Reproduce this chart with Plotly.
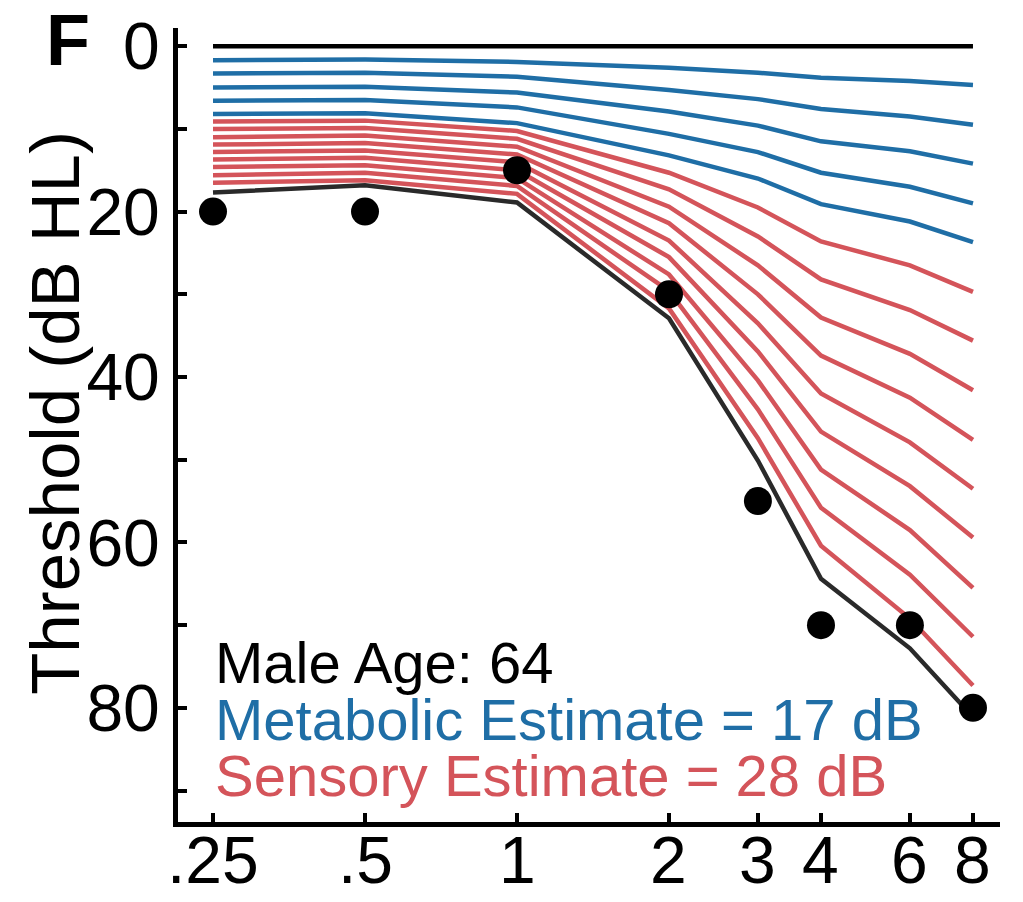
import math
import plotly.graph_objects as go

# Audiometric frequencies (kHz) and their axis labels
freqs = [0.25, 0.5, 1, 2, 3, 4, 6, 8]
freq_labels = [".25", ".5", "1", "2", "3", "4", "6", "8"]

# Normal-hearing reference (0 dB HL)
normal = [0, 0, 0, 0, 0, 0, 0, 0]

# Metabolic-loss family (blue), increasing strial loss
metabolic_1 = [1.7, 1.6, 1.9, 2.6, 3.2, 3.8, 4.2, 4.7]
metabolic_2 = [3.3, 3.2, 3.7, 5.3, 6.4, 7.6, 8.5, 9.5]
metabolic_3 = [5.0, 4.9, 5.6, 7.9, 9.6, 11.5, 12.7, 14.2]
metabolic_4 = [6.6, 6.5, 7.4, 10.6, 12.8, 15.3, 17.0, 19.0]
metabolic_5 = [8.2, 8.1, 9.3, 13.2, 16.0, 19.1, 21.2, 23.7]

# Sensory-loss family (red), added on top of the metabolic estimate
sensory_1 = [9.1, 9.0, 10.25, 15.3, 19.5, 23.6, 26.5, 29.7]
sensory_2 = [10.0, 9.9, 11.2, 17.3, 23.0, 28.2, 31.9, 35.6]
sensory_3 = [11.0, 10.8, 12.15, 19.4, 26.5, 32.8, 37.2, 41.6]
sensory_4 = [11.9, 11.7, 13.1, 21.4, 30.0, 37.4, 42.5, 47.6]
sensory_5 = [12.8, 12.6, 14.05, 23.5, 33.5, 42.0, 47.9, 53.5]
sensory_6 = [13.7, 13.5, 15.0, 25.5, 36.9, 46.6, 53.2, 59.4]
sensory_7 = [14.6, 14.4, 15.95, 27.6, 40.4, 51.2, 58.5, 65.5]
sensory_8 = [15.6, 15.3, 16.9, 29.6, 43.9, 55.8, 63.9, 71.4]
sensory_9 = [16.5, 16.2, 17.85, 31.7, 47.4, 60.4, 69.2, 77.3]

# Best-fitting model audiogram and measured thresholds
model_fit = [17.7, 16.8, 18.9, 32.9, 50.1, 64.4, 72.8, 81.1]
measured = [20, 20, 15, 30, 55, 70, 70, 80]

y_ticks = [0, 10, 20, 30, 40, 50, 60, 70, 80, 90]
y_tick_text = ["0", "", "20", "", "40", "", "60", "", "80", ""]

BLUE = "#1f6ea6"
RED = "#d4545a"
FONT = "Liberation Sans, Arial, sans-serif"

metabolic = [metabolic_1, metabolic_2, metabolic_3, metabolic_4, metabolic_5]
sensory = [sensory_1, sensory_2, sensory_3, sensory_4, sensory_5,
           sensory_6, sensory_7, sensory_8, sensory_9]

fig = go.Figure()

for curve in sensory:
    fig.add_trace(go.Scatter(x=freqs, y=curve, mode="lines",
                             line=dict(color=RED, width=4.5), hoverinfo="skip"))
for curve in metabolic:
    fig.add_trace(go.Scatter(x=freqs, y=curve, mode="lines",
                             line=dict(color=BLUE, width=4.5), hoverinfo="skip"))

fig.add_trace(go.Scatter(x=freqs, y=normal, mode="lines",
                         line=dict(color="#000000", width=4.5)))
fig.add_trace(go.Scatter(x=freqs, y=model_fit, mode="lines",
                         line=dict(color="#2a2a2a", width=4.5)))
fig.add_trace(go.Scatter(x=freqs, y=measured, mode="markers",
                         marker=dict(color="#000000", size=28)))

fig.update_layout(
    width=1023, height=902,
    margin=dict(l=178, r=23, t=28, b=80),
    paper_bgcolor="white", plot_bgcolor="white",
    showlegend=False,
    font=dict(family=FONT, color="black"),
    xaxis=dict(
        type="log", range=[-0.6714, 0.9566],
        tickvals=freqs, showticklabels=False,
        ticks="inside", ticklen=9, tickwidth=4, tickcolor="black",
        showline=True, linewidth=5, linecolor="black",
        showgrid=False, zeroline=False, automargin=False,
    ),
    yaxis=dict(
        range=[93.8, -2.2],
        tickvals=y_ticks, ticktext=y_tick_text,
        ticks="inside", ticklen=9, tickwidth=4, tickcolor="black",
        showline=True, linewidth=5, linecolor="black",
        showgrid=False, zeroline=False, automargin=False,
        tickfont=dict(size=66, family=FONT, color="black"),
    ),
)

# Frequency labels set just under the axis line (log axis -> log10 positions)
for f, lab in zip(freqs, freq_labels):
    fig.add_annotation(text=lab, x=math.log10(f), xref="x", y=-0.048, yref="paper",
                       xanchor="center", yanchor="middle", showarrow=False,
                       font=dict(size=66, color="black", family=FONT))

annotations = [
    dict(text="<b>F</b>", x=-0.134, y=0.985, font=dict(size=72, color="black")),
    dict(text="Threshold (dB HL)", x=-0.15, y=0.515, textangle=-90,
         font=dict(size=69, color="black")),
]
for a in annotations:
    a.update(xref="paper", yref="paper", showarrow=False,
             xanchor="center", yanchor="middle")
    fig.add_annotation(**a)

labels = [
    ("Male Age: 64", "black", 0.2015),
    ("Metabolic Estimate = 17 dB", BLUE, 0.1285),
    ("Sensory Estimate = 28 dB", RED, 0.058),
]
for text, color, ypos in labels:
    fig.add_annotation(text=text, xref="paper", yref="paper", x=0.043, y=ypos,
                       xanchor="left", yanchor="middle", showarrow=False,
                       font=dict(size=58, color=color, family=FONT))

fig.write_html("out.html")
